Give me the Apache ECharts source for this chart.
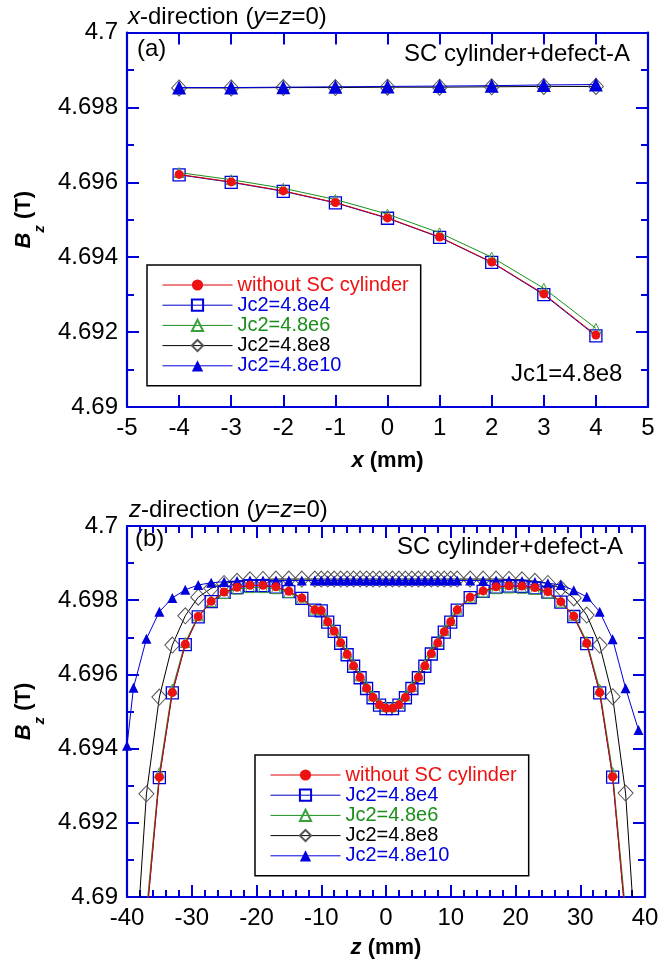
<!DOCTYPE html>
<html>
<head>
<meta charset="utf-8">
<script src="https://cdn.jsdelivr.net/npm/echarts@6/dist/echarts.min.js"></script>
<style>
html,body{margin:0;padding:0;background:#fff;}
#c{width:668px;height:965px;}
</style>
</head>
<body>
<div id="c"></div>
<script>
// ---------- data: panel (a), x-direction ----------
const xTop = [-4, -3, -2, -1, 0, 1, 2, 3, 4];
const topWithout = [4.69621, 4.69601, 4.69577, 4.69546, 4.69505, 4.69454, 4.69387, 4.69302, 4.69192];
const topJc4 = [4.69620, 4.69600, 4.69576, 4.69545, 4.69504, 4.69453, 4.69386, 4.69300, 4.69190];
const topJc6 = [4.69626, 4.69607, 4.69584, 4.69554, 4.69515, 4.69465, 4.69400, 4.69317, 4.69210];
const topJc8 = [4.69852, 4.69852, 4.69853, 4.69853, 4.69854, 4.69854, 4.69855, 4.69856, 4.69856];
const topJc10 = [4.69853, 4.69853, 4.69854, 4.69855, 4.69856, 4.69857, 4.69858, 4.69860, 4.69861];

// ---------- data: panel (b), z-direction ----------
const zGrid = [-39, -37, -35, -33, -31, -29, -27, -25, -23, -21, -19, -17, -15, -13,
  -11, -10, -9, -8, -7, -6, -5, -4, -3, -2, -1, 0, 1, 2, 3, 4, 5, 6, 7, 8, 9, 10, 11,
  13, 15, 17, 19, 21, 23, 25, 27, 29, 31, 33, 35, 37, 39];
const botWithout = [4.6830, 4.6894, 4.69323, 4.69551, 4.69681, 4.69756, 4.69797, 4.69822, 4.69835, 4.69840, 4.69840, 4.69836, 4.69824, 4.69806,
  4.69774, 4.69772, 4.69742, 4.69717, 4.69685, 4.69654, 4.69623, 4.69592, 4.69563, 4.69538, 4.69518, 4.69509, 4.69509, 4.69518, 4.69538, 4.69563, 4.69592, 4.69623, 4.69656, 4.69685, 4.69715, 4.69742, 4.69774,
  4.69808, 4.69825, 4.69836, 4.69839, 4.69838, 4.69834, 4.69823, 4.69796, 4.69757, 4.69684, 4.69551, 4.69324, 4.6894, 4.6830];
const botJc4 = [4.6830, 4.6894, 4.69322, 4.69550, 4.69680, 4.69755, 4.69796, 4.69821, 4.69834, 4.69839, 4.69839, 4.69835, 4.69823, 4.69805,
  4.69773, 4.69771, 4.69741, 4.69716, 4.69684, 4.69653, 4.69622, 4.69591, 4.69562, 4.69537, 4.69517, 4.69508, 4.69508, 4.69517, 4.69537, 4.69562, 4.69591, 4.69622, 4.69655, 4.69684, 4.69714, 4.69741, 4.69773,
  4.69807, 4.69824, 4.69835, 4.69838, 4.69837, 4.69833, 4.69822, 4.69795, 4.69756, 4.69683, 4.69550, 4.69323, 4.6894, 4.6830];
const botJc6 = [4.6832, 4.6896, 4.69335, 4.69560, 4.69686, 4.69758, 4.69796, 4.69818, 4.69830, 4.69834, 4.69834, 4.69831, 4.69821, 4.69806,
  4.69776, 4.69774, 4.69745, 4.69720, 4.69689, 4.69658, 4.69627, 4.69596, 4.69567, 4.69542, 4.69522, 4.69513, 4.69513, 4.69522, 4.69542, 4.69567, 4.69596, 4.69627, 4.69660, 4.69689, 4.69718, 4.69745, 4.69776,
  4.69808, 4.69822, 4.69831, 4.69833, 4.69832, 4.69829, 4.69819, 4.69795, 4.69759, 4.69689, 4.69560, 4.69336, 4.6896, 4.6832];
const botJc8 = [4.6875, 4.69278, 4.69539, 4.69679, 4.69758, 4.69808, 4.69832, 4.69845, 4.69851, 4.69855, 4.69856, 4.69857, 4.69857, 4.69857,
  4.69857, 4.69857, 4.69857, 4.69857, 4.69857, 4.69857, 4.69857, 4.69857, 4.69857, 4.69857, 4.69857, 4.69857, 4.69857, 4.69857, 4.69857, 4.69857, 4.69857, 4.69857, 4.69857, 4.69857, 4.69857, 4.69857, 4.69857,
  4.69857, 4.69857, 4.69857, 4.69856, 4.69855, 4.69851, 4.69845, 4.69832, 4.69806, 4.69760, 4.69679, 4.69540, 4.69280, 4.6875];
const zTri = [-40, -39, -37, -35, -33, -31, -29, -27, -25, -23, -21, -19, -17, -15, -13,
  -11, -10, -9, -8, -7, -6, -5, -4, -3, -2, -1, 0, 1, 2, 3, 4, 5, 6, 7, 8, 9, 10, 11,
  13, 15, 17, 19, 21, 23, 25, 27, 29, 31, 33, 35, 37, 39, 41];
const botJc10 = [4.69408, 4.69564, 4.69696, 4.69769, 4.69806, 4.69828, 4.69841, 4.69847, 4.69850, 4.69852, 4.69853, 4.69853, 4.69853, 4.69853, 4.69853,
  4.69853, 4.69853, 4.69853, 4.69853, 4.69853, 4.69853, 4.69853, 4.69853, 4.69853, 4.69853, 4.69853, 4.69853, 4.69853, 4.69853, 4.69853, 4.69853, 4.69853, 4.69853, 4.69853, 4.69853, 4.69853, 4.69853, 4.69853,
  4.69853, 4.69853, 4.69853, 4.69853, 4.69852, 4.69849, 4.69846, 4.69841, 4.69827, 4.69809, 4.69769, 4.69695, 4.69563, 4.69450];

const seriesNames = ['without SC cylinder', 'Jc2=4.8e4', 'Jc2=4.8e6', 'Jc2=4.8e8', 'Jc2=4.8e10'];
const xTicks = {min: -5, max: 5, interval: 1};
const zTicks = {min: -40, max: 40, interval: 10};
const bTicks = {min: 4.69, max: 4.7, interval: 0.002};

// ---------- styles ----------
const FF = '"Liberation Sans", Arial, Helvetica, sans-serif';
const AX = '#0000dd';
const RED = '#ee1111', BLUE = '#0000dd', GREEN = '#1a8f1a', BLACK = '#000000';
const nameColors = [RED, BLUE, GREEN, BLACK, BLUE];

const zip = (xs, ys) => xs.map((x, i) => [x, ys[i]]);
const fmtB = v => parseFloat(v.toFixed(3)).toString();

function axisBase(gi, t, pos, showLabel, minorSplit) {
  const a = {
    gridIndex: gi, type: 'value', min: t.min, max: t.max, interval: t.interval, position: pos,
    axisLine: {show: true, onZero: false, lineStyle: {color: AX, width: 2.2}},
    axisTick: {show: true, inside: true, length: 12, lineStyle: {color: AX, width: 2}},
    axisLabel: {show: showLabel, color: '#000', fontSize: 24, fontFamily: FF, margin: 9},
    splitLine: {show: false}
  };
  if (minorSplit) {
    a.minorTick = {show: true, splitNumber: minorSplit, length: 7, lineStyle: {color: AX, width: 2}};
  }
  return a;
}

const nameRich = {
  i: {fontStyle: 'italic', fontWeight: 'bold', fontSize: 22, fontFamily: FF, color: '#000'},
  n: {fontWeight: 'bold', fontSize: 22, fontFamily: FF, color: '#000'}
};
const yNameRich = {
  b: {fontStyle: 'italic', fontWeight: 'bold', fontSize: 22, fontFamily: FF, color: '#000', lineHeight: 26, verticalAlign: 'top'},
  s: {fontStyle: 'italic', fontWeight: 'bold', fontSize: 15, fontFamily: FF, color: '#000', lineHeight: 34, verticalAlign: 'bottom'},
  n: {fontWeight: 'bold', fontSize: 22, fontFamily: FF, color: '#000', lineHeight: 26, verticalAlign: 'top'}
};

const xA0 = axisBase(0, xTicks, 'bottom', true, 0);
Object.assign(xA0, {name: '{i|x}{n| (mm)}', nameLocation: 'middle', nameGap: 43, nameTextStyle: {rich: nameRich}});
const xA1 = axisBase(0, xTicks, 'top', false, 0);
const xA2 = axisBase(1, zTicks, 'bottom', true, 5);
Object.assign(xA2, {name: '{i|z}{n| (mm)}', nameLocation: 'middle', nameGap: 40, nameTextStyle: {rich: nameRich}});
const xA3 = axisBase(1, zTicks, 'top', false, 5);

const yA0 = axisBase(0, bTicks, 'left', true, 2);
yA0.axisLabel.formatter = fmtB;
Object.assign(yA0, {name: '{b|B}{s|z}{n| (T)}', nameLocation: 'middle', nameGap: 78, nameTextStyle: {rich: yNameRich}});
const yA1 = axisBase(0, bTicks, 'right', false, 2);
const yA2 = axisBase(1, bTicks, 'left', true, 2);
yA2.axisLabel.formatter = fmtB;
Object.assign(yA2, {name: '{b|B}{s|z}{n| (T)}', nameLocation: 'middle', nameGap: 78, nameTextStyle: {rich: yNameRich}});
const yA3 = axisBase(1, bTicks, 'right', false, 2);

function mkSeries(name, gi, data, kind, big) {
  const s = {name: name, type: 'line', xAxisIndex: gi * 2, yAxisIndex: gi * 2, data: data,
    clip: true, smooth: false, lineStyle: {width: 1}, emphasis: {disabled: true}};
  if (kind === 0) {
    Object.assign(s, {symbol: 'circle', symbolSize: big ? 9 : 9, z: 6,
      itemStyle: {color: RED}, lineStyle: {width: 1, color: '#dd0000'}});
  } else if (kind === 1) {
    Object.assign(s, {symbol: 'rect', symbolSize: 12, z: 3,
      itemStyle: {color: 'rgba(255,255,255,0)', borderColor: BLUE, borderWidth: 1.3},
      lineStyle: {width: 1, color: '#0000cc'}});
  } else if (kind === 2) {
    Object.assign(s, {symbol: 'triangle', symbolSize: 10, z: 4,
      itemStyle: {color: 'rgba(255,255,255,0)', borderColor: '#3aa03a', borderWidth: 1},
      lineStyle: {width: 1, color: GREEN}});
  } else if (kind === 3) {
    Object.assign(s, {symbol: 'diamond', symbolSize: big ? [15, 16] : [15, 16], z: 2,
      itemStyle: {color: 'rgba(255,255,255,0)', borderColor: '#555', borderWidth: 1},
      lineStyle: {width: 1, color: BLACK}});
  } else {
    Object.assign(s, {symbol: 'triangle', symbolSize: big ? 14 : 10, z: 5,
      itemStyle: {color: BLUE}, lineStyle: {width: 1, color: BLUE}});
  }
  return s;
}

const topSets = [topWithout, topJc4, topJc6, topJc8, topJc10];
const botSets = [zip(zGrid, botWithout), zip(zGrid, botJc4), zip(zGrid, botJc6), zip(zGrid, botJc8), zip(zTri, botJc10)];
const series = [];
seriesNames.forEach((n, k) => series.push(mkSeries(n, 0, zip(xTop, topSets[k]), k, true)));
seriesNames.forEach((n, k) => series.push(mkSeries(n + ' ', 1, botSets[k], k, false)));

function mkLegend(left, top, suffix) {
  return {
    orient: 'vertical', left: left, top: top, padding: [10, 12, 10, 15],
    borderColor: '#000', borderWidth: 1.5, backgroundColor: '#fff',
    itemWidth: 70, itemHeight: 14, itemGap: 0.2,
    selectedMode: false,
    lineStyle: {width: 1},
    formatter: n => n.trim(),
    textStyle: {fontSize: 20, fontFamily: FF, lineHeight: 20},
    data: seriesNames.map((n, k) => ({name: n + suffix, textStyle: {color: nameColors[k], fontSize: 20, fontFamily: FF}}))
  };
}

const txt = (s) => ({text: s, font: '24px ' + FF, fill: '#000'});

const option = {
  animation: false,
  backgroundColor: '#fff',
  title: [
    {text: '{i|x}-direction ({i|y}={i|z}=0)', left: 128, top: 5, padding: 0,
      textStyle: {fontSize: 24, fontWeight: 'normal', fontFamily: FF, color: '#000',
        rich: {i: {fontStyle: 'italic', fontSize: 24, fontFamily: FF, color: '#000'}}}},
    {text: '{i|z}-direction ({i|y}={i|z}=0)', left: 129, top: 498, padding: 0,
      textStyle: {fontSize: 24, fontWeight: 'normal', fontFamily: FF, color: '#000',
        rich: {i: {fontStyle: 'italic', fontSize: 24, fontFamily: FF, color: '#000'}}}}
  ],
  grid: [
    {left: 127, top: 32.5, width: 521, height: 374.5, containLabel: false},
    {left: 127, top: 526, width: 518, height: 371, containLabel: false}
  ],
  xAxis: [xA0, xA1, xA2, xA3],
  yAxis: [yA0, yA1, yA2, yA3],
  legend: [mkLegend(147, 265, ''), mkLegend(255, 755, ' ')],
  graphic: [
    {type: 'text', left: 137, top: 37, style: txt('(a)')},
    {type: 'text', right: 38, top: 42, style: txt('SC cylinder+defect-A')},
    {type: 'text', left: 511, top: 362, style: txt('Jc1=4.8e8')},
    {type: 'text', left: 135, top: 527, style: txt('(b)')},
    {type: 'text', right: 45, top: 535, style: txt('SC cylinder+defect-A')}
  ],
  series: series
};

const chart = echarts.init(document.getElementById('c'), null, {renderer: 'canvas'});
chart.setOption(option);
</script>
</body>
</html>
